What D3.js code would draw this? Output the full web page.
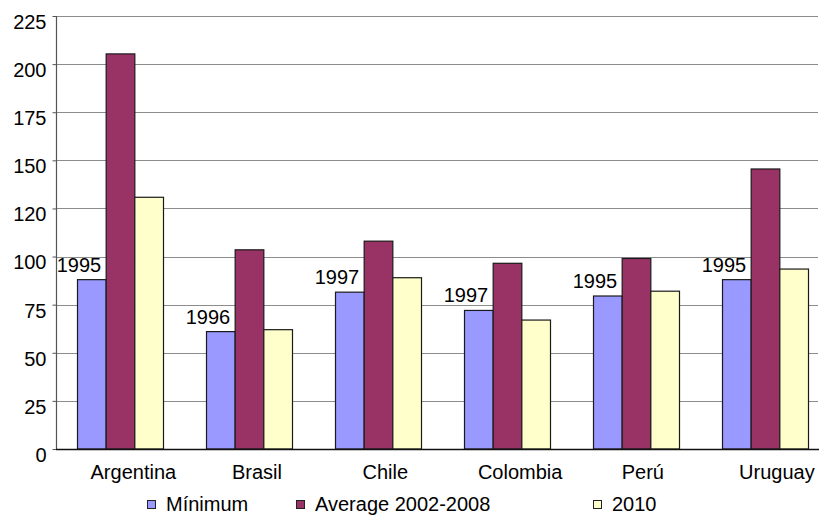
<!DOCTYPE html>
<html>
<head>
<meta charset="utf-8">
<script src="https://cdn.jsdelivr.net/npm/d3@7"></script>
<style>
  html, body { margin: 0; padding: 0; background: #fff; }
  svg { display: block; font-family: "Liberation Sans", Arial, sans-serif; }
</style>
</head>
<body>
<svg id="chart" width="819" height="516"></svg>
<script>
// Countries along the x axis
const categories = ["Argentina", "Brasil", "Chile", "Colombia", "Perú", "Uruguay"];

// Series
const seriesNames = ["Mínimum", "Average 2002-2008", "2010"];
const minimum   = [88, 61, 81.5, 72, 79.5, 88];
const average   = [205.3, 103.5, 108, 96.5, 99, 145.5];
const y2010     = [130.8, 62, 89, 67, 82, 93.5];
const minimumYears = ["1995", "1996", "1997", "1997", "1995", "1995"];

// Value axis ticks and the labels printed beside them
const tickValues = [0, 25, 50, 75, 100, 125, 150, 175, 200, 225];
const tickLabels = ["0", "25", "50", "75", "100", "120", "150", "175", "200", "225"];

const colors = ["#9999FF", "#993366", "#FFFFCC"];
const seriesValues = [minimum, average, y2010];

const svg = d3.select("#chart");
const W = 819;
const plotLeft = 56, plotTop = 16, plotBottom = 449;

const x = d3.scaleBand()
  .domain(categories)
  .range([plotLeft, plotLeft + 774])
  .paddingInner(1 / 3)
  .paddingOuter(1 / 6);

const xs = d3.scaleBand()
  .domain(d3.range(seriesNames.length))
  .range([0, x.bandwidth()]);

const y = d3.scaleLinear().domain([0, 225]).range([plotBottom, plotTop]);

// Horizontal gridlines
svg.append("g")
  .selectAll("line")
  .data(tickValues.filter(d => d > 0))
  .join("line")
  .attr("x1", plotLeft).attr("x2", W - 1)
  .attr("y1", d => Math.round(y(d)) + 0.5)
  .attr("y2", d => Math.round(y(d)) + 0.5)
  .attr("stroke", "#8c8c8c")
  .attr("stroke-width", 1.2);

// Bars
const groups = svg.append("g")
  .selectAll("g")
  .data(categories)
  .join("g")
  .attr("transform", d => `translate(${x(d)},0)`);

groups.selectAll("rect")
  .data((c, i) => seriesValues.map((vals, s) => ({ s, v: vals[i] })))
  .join("rect")
  .attr("x", d => xs(d.s))
  .attr("width", xs.bandwidth())
  .attr("y", d => y(d.v))
  .attr("height", d => y(0) - y(d.v))
  .attr("fill", d => colors[d.s])
  .attr("stroke", "#1a1a1a")
  .attr("stroke-width", 1.2);

// Year labels over the minimum bars
groups.append("text")
  .attr("x", xs(0) + xs.bandwidth() - 5)
  .attr("y", (c, i) => y(minimum[i]) - 8)
  .attr("text-anchor", "end")
  .attr("font-size", 20)
  .attr("fill", "#000")
  .text((c, i) => minimumYears[i]);

// Y axis
const yAxis = d3.axisLeft(y)
  .tickValues(tickValues)
  .tickFormat((d, i) => tickLabels[i])
  .tickSize(4)
  .tickPadding(6);

const gy = svg.append("g")
  .attr("transform", `translate(${plotLeft + 0.5},0)`)
  .call(yAxis);
gy.select(".domain").attr("stroke", "#555").attr("stroke-width", 1.2).attr("d", `M0,${plotTop}V${plotBottom}`);
gy.selectAll(".tick line").attr("stroke", "#555");
gy.selectAll(".tick text")
  .attr("font-size", 20)
  .attr("font-family", "Liberation Sans, Arial, sans-serif")
  .attr("fill", "#000")
  .attr("y", 6);

// X axis line
svg.append("line")
  .attr("x1", plotLeft).attr("x2", W)
  .attr("y1", plotBottom + 0.5).attr("y2", plotBottom + 0.5)
  .attr("stroke", "#111")
  .attr("stroke-width", 1.3);

// Category labels
svg.append("g")
  .selectAll("text")
  .data(categories)
  .join("text")
  .attr("x", d => x(d) + x.bandwidth() / 2)
  .attr("y", plotBottom + 30)
  .attr("text-anchor", "middle")
  .attr("font-size", 20)
  .attr("fill", "#000")
  .text(d => d)
  .each(function () {
    const w = this.getComputedTextLength();
    d3.select(this).attr("dx", w * 0.15);
  });

// Legend along the bottom edge
const legendX = [147, 296, 593];
const legend = svg.append("g")
  .selectAll("g")
  .data(seriesNames)
  .join("g")
  .attr("transform", (d, i) => `translate(${legendX[i]},0)`);

legend.append("rect")
  .attr("x", 0.5).attr("y", 500.5)
  .attr("width", 8).attr("height", 8)
  .attr("fill", (d, i) => colors[i])
  .attr("stroke", "#222")
  .attr("stroke-width", 1);

legend.append("text")
  .attr("x", 19)
  .attr("y", 511)
  .attr("font-size", 20)
  .attr("fill", "#000")
  .text(d => d);
</script>
</body>
</html>
